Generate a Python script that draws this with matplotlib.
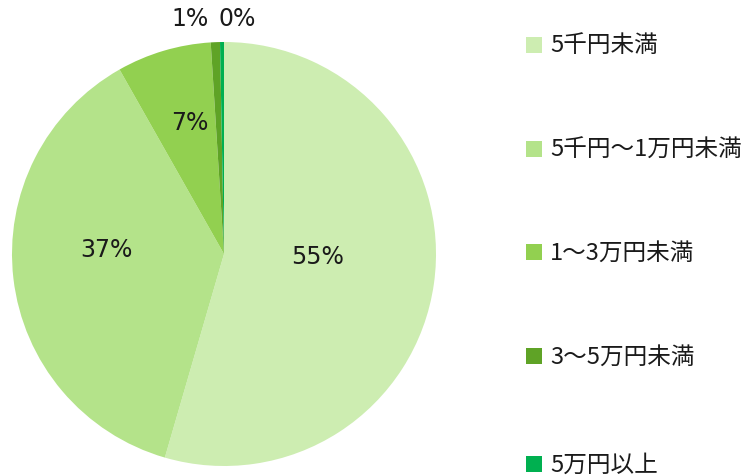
import matplotlib
matplotlib.use('Agg')
from matplotlib import pyplot as plt
from matplotlib.patches import Rectangle

plt.rcParams['font.family'] = ['Noto Sans CJK JP', 'DejaVu Sans']

# Data
categories = ['5千円未満', '5千円～1万円未満', '1～3万円未満', '3～5万円未満', '5万円以上']
shares = [54.5, 37.3, 7.2, 0.7, 0.3]
pct_labels = ['55%', '37%', '7%', '1%', '0%']
colors = ['#CDEDB1', '#B4E38A', '#92D050', '#5FA326', '#00B050']

W, H = 748, 477
fig = plt.figure(figsize=(W / 100, H / 100), dpi=100)

# pie axes: center (224, 255) px, radius 212 px
cx, cy, r = 224, 255, 212
ax = fig.add_axes([(cx - r) / W, (H - cy - r) / H, 2 * r / W, 2 * r / H])
wedges, _ = ax.pie(shares, colors=colors, startangle=90, counterclock=False,
                   radius=1, wedgeprops=dict(linewidth=0))
ax.set_xlim(-1, 1)
ax.set_ylim(-1, 1)
ax.set_aspect('equal')
ax.axis('off')

# percentage label positions (pixel coords from picture)
label_px = [(318, 257), (106, 250), (190, 123), (190, 19), (237, 19)]
for txt, (px, py) in zip(pct_labels, label_px):
    fig.text(px / W, 1 - py / H, txt, ha='center', va='center', fontsize=17,
             color='#1a1a1a', family=['DejaVu Sans'])

# legend
leg_y = [46, 150, 253, 357, 465]
sq = 16
for name, col, y in zip(categories, colors, leg_y):
    fig.add_artist(Rectangle((526 / W, 1 - (y + sq / 2) / H), sq / W, sq / H,
                             transform=fig.transFigure, facecolor=col, edgecolor='none'))
    fig.text(550 / W, 1 - y / H, name, ha='left', va='center', fontsize=17,
             color='#1a1a1a')

fig.savefig('out.png', dpi=100)
